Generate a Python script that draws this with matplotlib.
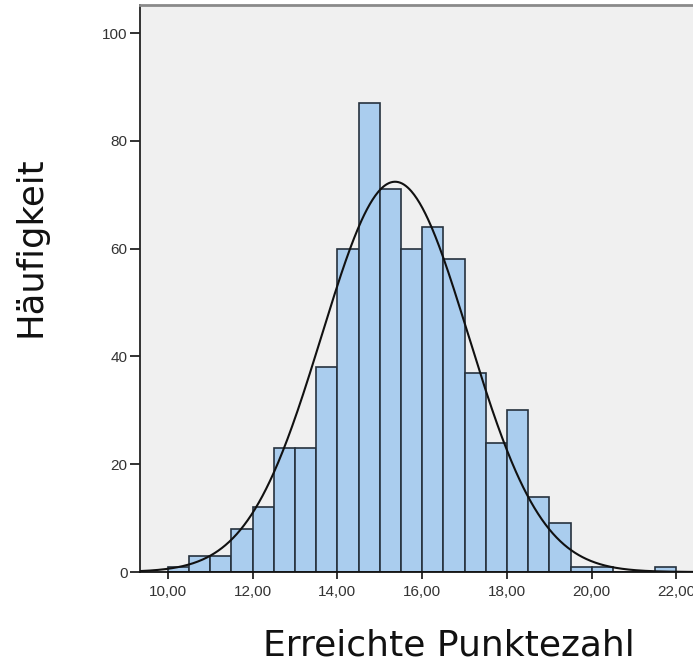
import numpy as np
import matplotlib
matplotlib.use("Agg")
import matplotlib.pyplot as plt

# Histogram data (bin width 0.5)
bin_left = [10.0, 10.5, 11.0, 11.5, 12.0, 12.5, 13.0, 13.5, 14.0, 14.5, 15.0,
            15.5, 16.0, 16.5, 17.0, 17.5, 18.0, 18.5, 19.0, 19.5, 20.0, 20.5,
            21.0, 21.5]
counts = [1, 3, 3, 8, 12, 23, 23, 38, 60, 87, 71, 60, 64, 58, 37, 24, 30, 14,
          9, 1, 1, 0, 0, 1]
bin_width = 0.5

# Normal curve parameters
curve_mean = 15.36
curve_sd = 1.73

x_ticks = [10, 12, 14, 16, 18, 20, 22]
x_tick_labels = ["10,00", "12,00", "14,00", "16,00", "18,00", "20,00", "22,00"]
y_ticks = [0, 20, 40, 60, 80, 100]

fig = plt.figure(figsize=(6.93, 6.62), dpi=100)
ax = fig.add_axes([139.5 / 693, 90 / 662, 1 - 139.5 / 693, 567 / 662])
ax.set_facecolor("#F0F0F0")

ax.bar(bin_left, counts, width=bin_width, align="edge", color="#AACDEE",
       edgecolor="#26323E", linewidth=1.2, zorder=2)

n_total = sum(counts)
xs = np.linspace(9.33, 22.4, 600)
ys = n_total * bin_width / (curve_sd * np.sqrt(2 * np.pi)) * np.exp(-0.5 * ((xs - curve_mean) / curve_sd) ** 2)
ax.plot(xs, ys, color="#111111", linewidth=1.5, zorder=3)

ax.set_xlim(9.33, 22.39)
ax.set_ylim(0, 105.2)

ax.set_xticks(x_ticks)
ax.set_xticklabels(x_tick_labels)
ax.set_yticks(y_ticks)
ax.set_yticklabels([str(v) for v in y_ticks])

ax.tick_params(axis="y", direction="out", length=7, width=1.3, color="#222222",
               labelsize=11, labelcolor="#333333", pad=1.5)
ax.tick_params(axis="x", direction="out", length=5, width=1.3, color="#222222",
               labelsize=11, labelcolor="#333333", pad=4)
for lab in ax.get_xticklabels() + ax.get_yticklabels():
    lab.set_fontfamily("Liberation Sans")

ax.spines["right"].set_visible(False)
ax.spines["left"].set_color("#222222")
ax.spines["left"].set_linewidth(1.3)
ax.spines["bottom"].set_color("#111111")
ax.spines["bottom"].set_linewidth(1.3)
ax.spines["top"].set_color("#8A8A8A")
ax.spines["top"].set_linewidth(2.0)

fig.text(449 / 693, 1 - 655 / 662, "Erreichte Punktezahl", fontsize=26,
         family="DejaVu Sans", color="#111111", ha="center", va="baseline")
fig.text(31 / 693, 1 - 247 / 662, "Häufigkeit", fontsize=25.5, rotation=90,
         family="DejaVu Sans", color="#111111", ha="center", va="center")

fig.savefig("out.png", dpi=100)
